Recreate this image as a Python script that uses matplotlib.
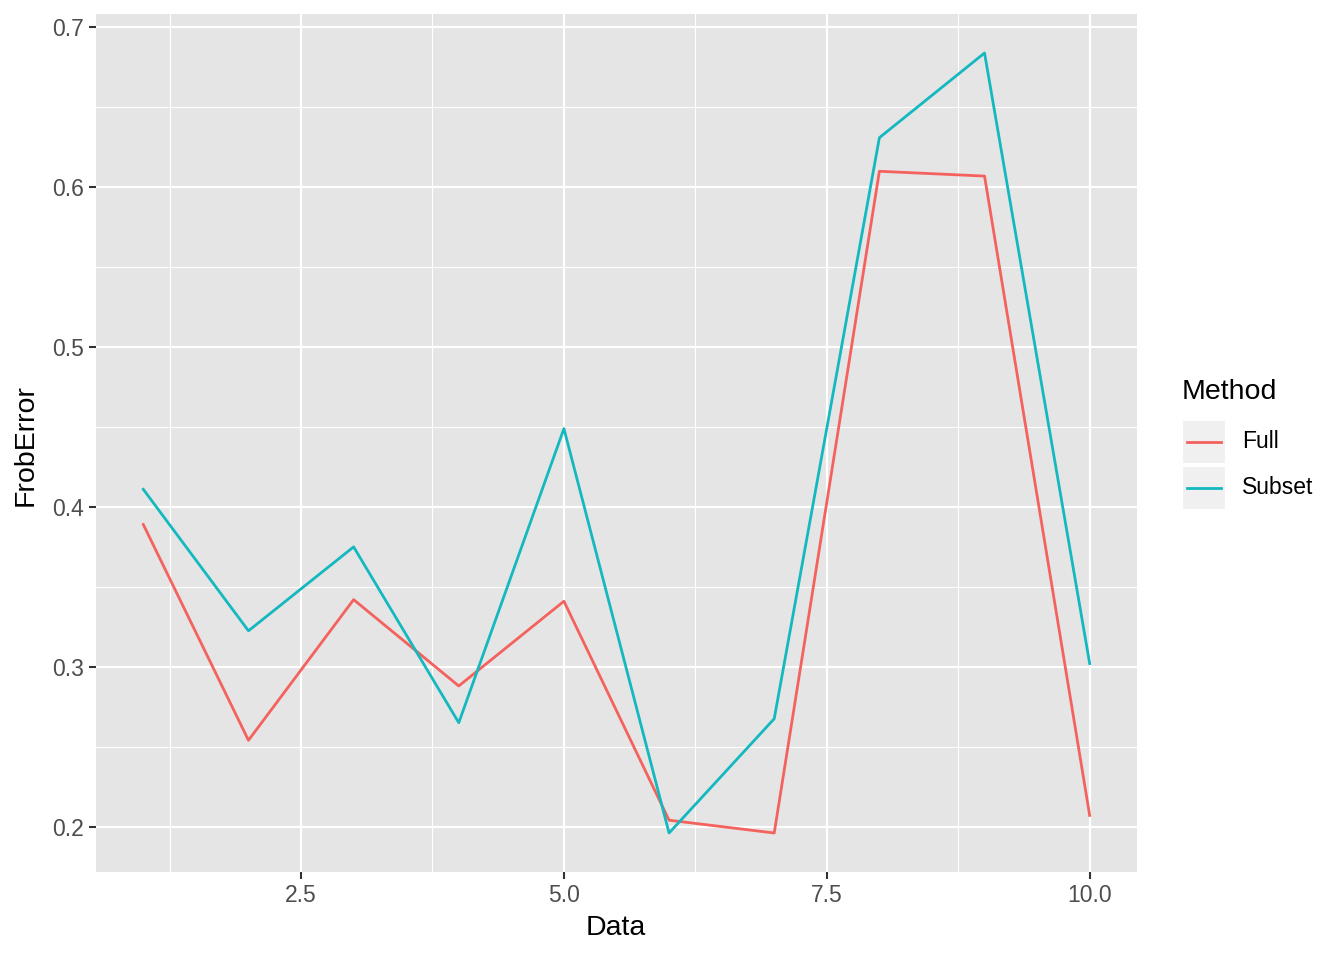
import numpy as np
import matplotlib.pyplot as plt
from matplotlib.patches import Rectangle
from matplotlib.lines import Line2D

plt.rcParams['font.family'] = ['Liberation Sans', 'DejaVu Sans']

DATA = [1, 2, 3, 4, 5, 6, 7, 8, 9, 10]
FULL = [0.389, 0.254, 0.342, 0.288, 0.341, 0.204, 0.196, 0.610, 0.607, 0.207]
SUBSET = [0.411, 0.3225, 0.375, 0.265, 0.449, 0.196, 0.2675, 0.631, 0.684, 0.302]
METHODS = ['Full', 'Subset']
COLORS = {'Full': '#F4625E', 'Subset': '#14B8BF'}
SERIES = {'Full': FULL, 'Subset': SUBSET}

W, H = 1344, 960
TITLE_FS = 20.5
LABEL_FS = 16.5
LW = 2.0

fig = plt.figure(figsize=(W / 100, H / 100), dpi=100)
ax = fig.add_axes([96 / W, 1 - 872 / H, (1137 - 96) / W, (872 - 14) / H])
ax.set_facecolor('#E5E5E5')
for s in ax.spines.values():
    s.set_visible(False)

# ggplot-style limits (5% expansion)
allv = FULL + SUBSET
xr = max(DATA) - min(DATA)
yr = max(allv) - min(allv)
ax.set_xlim(min(DATA) - 0.05 * xr, max(DATA) + 0.05 * xr)
ax.set_ylim(min(allv) - 0.05 * yr, max(allv) + 0.05 * yr)

xt = [2.5, 5.0, 7.5, 10.0]
yt = [0.2, 0.3, 0.4, 0.5, 0.6, 0.7]
ax.set_xticks(xt)
ax.set_xticklabels([f'{v:.1f}' for v in xt])
ax.set_yticks(yt)
ax.set_yticklabels([f'{v:.1f}' for v in yt])
ax.set_xticks([1.25, 3.75, 6.25, 8.75], minor=True)
ax.set_yticks([0.25, 0.35, 0.45, 0.55, 0.65], minor=True)
ax.grid(which='major', color='white', linewidth=1.6)
ax.grid(which='minor', color='white', linewidth=0.8)
ax.set_axisbelow(True)
ax.tick_params(which='major', length=5.2, width=1.5, color='#333333',
               labelsize=LABEL_FS, labelcolor='#4D4D4D', pad=3.6)
ax.tick_params(which='minor', length=0)

for m in METHODS:
    ax.plot(DATA, SERIES[m], color=COLORS[m], linewidth=LW)

# axis titles placed like ggplot
fig.text(616 / W, 1 - 928 / H, 'Data', fontsize=TITLE_FS, ha='center', va='center')
fig.text(26 / W, 1 - 445 / H, 'FrobError', fontsize=TITLE_FS, ha='center', va='center',
         rotation=90)

# manual ggplot-style legend
fig.text(1182 / W, 1 - 392 / H, 'Method', fontsize=TITLE_FS, va='center', ha='left')
for i, m in enumerate(METHODS):
    top = 421 + i * 46
    fig.patches.append(Rectangle((1183 / W, 1 - (top + 42) / H), 42 / W, 42 / H,
                                 transform=fig.transFigure, facecolor='#F0F0F0',
                                 edgecolor='none'))
    cy = 1 - (top + 21) / H
    fig.lines.append(Line2D([1187 / W, 1221 / W], [cy, cy], transform=fig.transFigure,
                            color=COLORS[m], linewidth=LW))
    fig.text(1242 / W, cy, m, fontsize=LABEL_FS, va='center', ha='left')

fig.savefig('out.png', dpi=100)
